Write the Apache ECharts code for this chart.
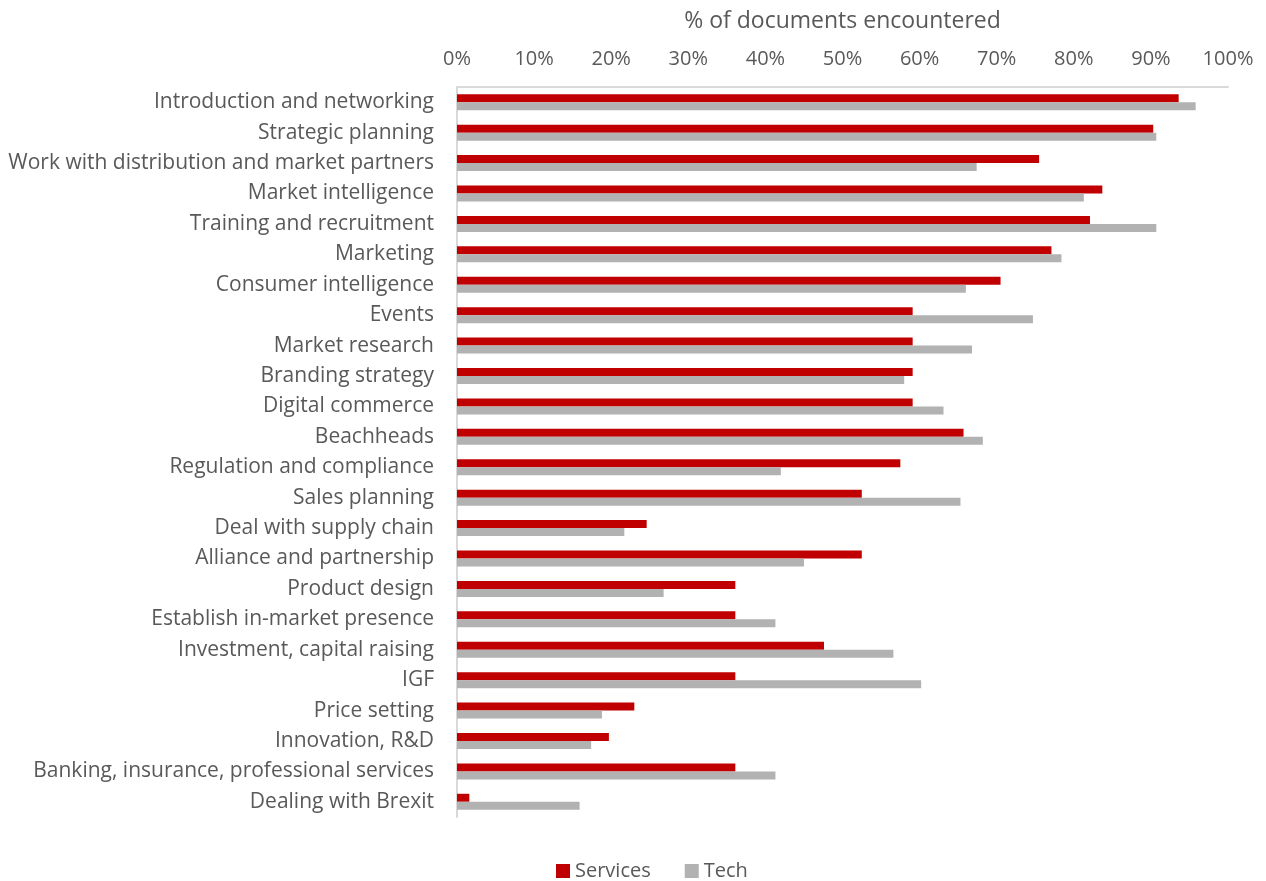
<!DOCTYPE html>
<html lang="en">

<head>
    <meta charset="utf-8">
    <style type="text/css">
    body {
        margin: 0;
        background-color: #fff
    }

    #echarts {
        width: 1266px;
        height: 881px;
    }
    </style>
</head>

<body>
    <div id="echarts"></div>
    <script type="text/javascript" src="https://cdn.jsdelivr.net/npm/echarts@6/dist/echarts.min.js"></script>
    <script type="text/javascript">
    var categories = [
        'Introduction and networking',
        'Strategic planning',
        'Work with distribution and market partners',
        'Market intelligence',
        'Training and recruitment',
        'Marketing',
        'Consumer intelligence',
        'Events',
        'Market research',
        'Branding strategy',
        'Digital commerce',
        'Beachheads',
        'Regulation and compliance',
        'Sales planning',
        'Deal with supply chain',
        'Alliance and partnership',
        'Product design',
        'Establish in-market presence',
        'Investment, capital raising',
        'IGF',
        'Price setting',
        'Innovation, R&D',
        'Banking, insurance, professional services',
        'Dealing with Brexit'
    ];
    var services = [93.6, 90.3, 75.5, 83.7, 82.1, 77.1, 70.5, 59.1, 59.1, 59.1, 59.1, 65.7,
        57.5, 52.5, 24.6, 52.5, 36.1, 36.1, 47.6, 36.1, 23.0, 19.7, 36.1, 1.6];
    var tech = [95.8, 90.7, 67.4, 81.3, 90.7, 78.4, 66.0, 74.7, 66.8, 58.0, 63.1, 68.2,
        42.0, 65.3, 21.7, 45.0, 26.8, 41.3, 56.6, 60.2, 18.8, 17.4, 41.3, 15.9];
    var xTicks = [0, 10, 20, 30, 40, 50, 60, 70, 80, 90, 100];

    var textColor = '#595959';
    var font = 'Open Sans';

    var myEcharts = echarts.init(document.getElementById('echarts'));
    var option = {
        animation: false,
        textStyle: { fontFamily: font },
        grid: {
            left: 457,
            right: 38,
            top: 87,
            bottom: 64,
            outerBoundsMode: 'none'
        },
        legend: {
            data: ['Services', 'Tech'],
            left: 551,
            top: 856,
            icon: 'rect',
            itemWidth: 14,
            itemHeight: 14,
            itemGap: 34,
            itemTextGap: 5,
            textStyle: { color: textColor, fontSize: 20, fontFamily: font }
        },
        xAxis: {
            type: 'value',
            position: 'top',
            min: xTicks[0],
            max: xTicks[xTicks.length - 1],
            interval: 10,
            name: '% of documents encountered',
            nameLocation: 'middle',
            nameGap: 54,
            nameTextStyle: { color: textColor, fontSize: 23, fontFamily: font },
            axisLine: { show: true, lineStyle: { color: '#d9d9d9', width: 2 } },
            axisTick: { show: false },
            splitLine: { show: false },
            axisLabel: {
                formatter: '{value}%',
                color: textColor,
                fontSize: 20,
                margin: 18
            }
        },
        yAxis: {
            type: 'category',
            inverse: true,
            data: categories,
            axisLine: { show: true, lineStyle: { color: '#d9d9d9', width: 2 } },
            axisTick: { show: false },
            axisLabel: {
                color: textColor,
                fontSize: 21,
                margin: 23
            }
        },
        series: [{
            name: 'Services',
            type: 'bar',
            data: services,
            barWidth: 8,
            barGap: '0%',
            itemStyle: { color: '#c00000' }
        }, {
            name: 'Tech',
            type: 'bar',
            data: tech,
            barWidth: 8,
            itemStyle: { color: '#b2b2b2' }
        }]
    };
    myEcharts.setOption(option);
    </script>
</body>

</html>
